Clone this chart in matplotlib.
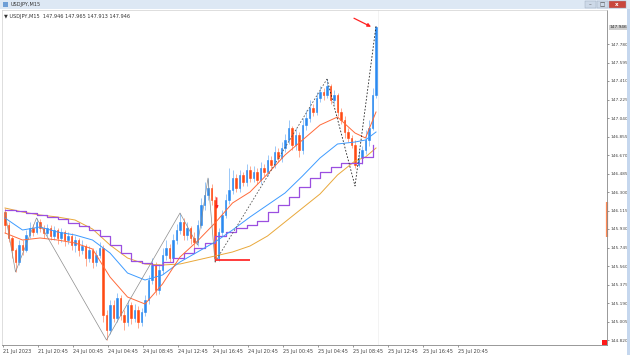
import matplotlib

matplotlib.use("Agg")
import matplotlib.pyplot as plt
from matplotlib.patches import Rectangle

W, H = 630, 355

# M15 bars; open of every bar is the close of the bar before
first_open = 146.10
closes = [
    145.97, 145.84, 145.72, 145.60, 145.77, 145.72, 145.87, 145.94, 145.90, 146.00,
    145.94, 145.89, 145.94, 145.86, 145.92, 145.84, 145.90, 145.82, 145.86, 145.77,
    145.82, 145.72, 145.76, 145.64, 145.72, 145.60, 145.67, 145.74, 145.07, 144.92,
    145.17, 145.04, 145.24, 145.07, 145.00, 145.17, 145.04, 145.12, 145.00, 145.10,
    145.22, 145.42, 145.57, 145.32, 145.52, 145.67, 145.74, 145.64, 145.82, 145.92,
    146.00, 145.87, 145.94, 145.84, 145.80, 145.97, 146.17, 146.27, 146.34, 146.22,
    145.64, 145.90, 146.07, 146.22, 146.32, 146.44, 146.34, 146.47, 146.40, 146.52,
    146.44, 146.50, 146.42, 146.54, 146.50, 146.62, 146.57, 146.70, 146.64, 146.74,
    146.82, 146.94, 146.77, 146.87, 146.72, 146.97, 147.04, 147.14, 147.10, 147.24,
    147.30, 147.27, 147.36, 147.22, 147.27, 147.10, 147.02, 146.90, 146.84, 146.77,
    146.57, 146.64, 146.72, 146.82, 146.94, 147.27, 147.95,
]
highs = [
    146.14, 146.00, 145.86, 145.74, 145.82, 145.82, 145.92, 146.00, 145.98, 146.04,
    146.03, 145.97, 145.98, 145.97, 145.96, 145.94, 145.94, 145.92, 145.90, 145.89,
    145.86, 145.84, 145.82, 145.78, 145.76, 145.74, 145.72, 145.80, 145.77, 145.12,
    145.22, 145.22, 145.29, 145.27, 145.12, 145.22, 145.20, 145.18, 145.16, 145.14,
    145.27, 145.47, 145.64, 145.60, 145.58, 145.74, 145.82, 145.78, 145.88, 145.98,
    146.09, 146.04, 146.00, 145.96, 145.90, 146.02, 146.24, 146.40, 146.44, 146.38,
    146.26, 145.94, 146.12, 146.28, 146.54, 146.52, 146.48, 146.52, 146.50, 146.58,
    146.56, 146.56, 146.54, 146.60, 146.58, 146.67, 146.66, 146.76, 146.74, 146.80,
    146.88, 147.02, 146.96, 146.94, 146.90, 147.04, 147.12, 147.22, 147.18, 147.30,
    147.36, 147.34, 147.43, 147.38, 147.32, 147.29, 147.14, 147.06, 146.94, 146.87,
    146.82, 146.72, 146.76, 146.92, 147.02, 147.34, 147.96,
]
lows = [
    145.89, 145.80, 145.64, 145.50, 145.57, 145.67, 145.70, 145.84, 145.86, 145.88,
    145.90, 145.84, 145.86, 145.82, 145.82, 145.78, 145.80, 145.76, 145.78, 145.72,
    145.70, 145.66, 145.68, 145.56, 145.60, 145.54, 145.56, 145.64, 145.00, 144.82,
    144.88, 145.00, 145.00, 145.02, 144.92, 144.96, 144.98, 145.00, 144.94, 144.96,
    145.06, 145.18, 145.38, 145.27, 145.28, 145.48, 145.62, 145.60, 145.60, 145.78,
    145.88, 145.82, 145.82, 145.78, 145.74, 145.76, 145.94, 146.12, 146.22, 146.17,
    145.60, 145.61, 145.86, 146.04, 146.18, 146.28, 146.30, 146.30, 146.36, 146.36,
    146.40, 146.40, 146.38, 146.38, 146.46, 146.46, 146.52, 146.54, 146.60, 146.60,
    146.70, 146.78, 146.72, 146.72, 146.65, 146.68, 146.92, 147.00, 147.06, 147.07,
    147.20, 147.22, 147.24, 147.18, 147.18, 147.06, 146.98, 146.84, 146.80, 146.74,
    146.54, 146.55, 146.58, 146.68, 146.76, 146.92, 147.24,
]

# moving averages, read every few bars
ma_idx = [0, 5, 10, 15, 20, 25, 30, 35, 40, 45, 50, 55, 60, 65, 70, 75, 80, 85,
          90, 95, 100, 103, 106]
ma_fast = [145.89, 145.82, 145.84, 145.82, 145.79, 145.73, 145.45, 145.25, 145.18,
           145.38, 145.65, 145.81, 145.99, 146.19, 146.30, 146.48, 146.67, 146.82,
           146.97, 147.05, 146.89, 146.84, 147.10]
ma_mid = [146.04, 145.92, 145.95, 145.90, 145.87, 145.82, 145.69, 145.49, 145.42,
          145.47, 145.60, 145.70, 145.80, 145.92, 146.05, 146.17, 146.29, 146.46,
          146.64, 146.78, 146.80, 146.82, 146.90]
ma_slow = [146.14, 146.10, 146.07, 146.05, 146.02, 145.93, 145.77, 145.64, 145.58,
           145.57, 145.58, 145.62, 145.66, 145.70, 145.76, 145.86, 146.00, 146.14,
           146.28, 146.47, 146.61, 146.65, 146.74]
# higher-timeframe MA, drawn as steps
step_idx = list(range(0, 106, 3))
ma_step = [146.12, 146.11, 146.09, 146.07, 146.05, 146.03, 145.99, 145.96, 145.92,
           145.86, 145.77, 145.69, 145.61, 145.59, 145.57, 145.60, 145.64, 145.69,
           145.74, 145.79, 145.86, 145.90, 145.94, 145.97, 146.01, 146.10, 146.17,
           146.25, 146.35, 146.44, 146.50, 146.55, 146.59, 146.59, 146.65, 146.77]

zz_idx = [0, 3, 9, 29, 50, 55, 58, 60, 92, 100, 106]
zz_price = [146.10, 145.50, 146.04, 144.82, 146.09, 145.77, 146.44, 145.60, 147.43,
            146.36, 147.96]

price_labels = ["147.780", "147.595", "147.410", "147.225", "147.040", "146.855",
                "146.670", "146.485", "146.300", "146.115", "145.930", "145.745",
                "145.560", "145.375", "145.190", "145.005", "144.820"]
time_labels = ["21 Jul 2023", "21 Jul 20:45", "24 Jul 00:45", "24 Jul 04:45",
               "24 Jul 08:45", "24 Jul 12:45", "24 Jul 16:45", "24 Jul 20:45",
               "25 Jul 00:45", "25 Jul 04:45", "25 Jul 08:45", "25 Jul 12:45",
               "25 Jul 16:45", "25 Jul 20:45"]
header = "USDJPY,M15  147.946 147.965 147.913 147.946"
bid = 147.946

UP, DOWN = "#2b8af0", "#ff4a12"
FS = 3.6
FS_PRICE = 3.1

fig = plt.figure(figsize=(W / 100, H / 100), dpi=100)
fig.patch.set_facecolor("white")

# window title bar
fig.patches.append(Rectangle((0, 1 - 9 / H), 1, 9 / H, transform=fig.transFigure,
                             facecolor="#dde8f4", edgecolor="none"))
fig.patches.append(Rectangle((3 / W, 1 - 7 / H), 5 / W, 5 / H, transform=fig.transFigure,
                             facecolor="#6f9fd6", edgecolor="none"))
fig.text(11 / W, 1 - 4.5 / H, "USDJPY,M15", fontsize=FS, va="center", color="#333333")
for x0, w, c in [(585, 11, "#cdd9e8"), (597, 11, "#cdd9e8"), (609, 17, "#c9463d")]:
    fig.patches.append(Rectangle((x0 / W, 1 - 8 / H), w / W, 7 / H, transform=fig.transFigure,
                                 facecolor=c, edgecolor="#9aa9bb", linewidth=0.3))
fig.text(590.5 / W, 1 - 4.5 / H, "–", fontsize=4, ha="center", va="center", color="#444")
fig.text(602.5 / W, 1 - 4.5 / H, "□", fontsize=4, ha="center", va="center", color="#444")
fig.text(617 / W, 1 - 4.5 / H, "x", fontsize=4, ha="center", va="center", color="white",
         fontweight="bold")
fig.patches.append(Rectangle((627 / W, 0), 3 / W, 1 - 9 / H, transform=fig.transFigure,
                             facecolor="#c5d7ee", edgecolor="none"))

ax = fig.add_axes([2 / W, 10 / H, 605 / W, 335 / H])
ax.set_xlim(-0.86, 172)
ax.set_ylim(144.77, 148.12)

opens = [first_open] + closes[:-1]
for i, (o, c, hi, lo) in enumerate(zip(opens, closes, highs, lows)):
    col = UP if c >= o else DOWN
    ax.vlines(i, lo, hi, color=col, linewidth=0.6, alpha=0.55)
    ax.add_patch(Rectangle((i - 0.25, min(o, c)), 0.5, max(abs(c - o), 0.01),
                           facecolor=col, edgecolor=col, linewidth=0.4))

ax.plot(ma_idx, ma_slow, color="#e9a83a", linewidth=0.7)
ax.plot(step_idx, ma_step, color="#9b4fe0", linewidth=0.9, drawstyle="steps-post")
ax.plot(ma_idx, ma_mid, color="#3d9bff", linewidth=0.7)
ax.plot(ma_idx, ma_fast, color="#ff6a3a", linewidth=0.7)

# zigzag: old legs solid grey, recent legs dashed
ax.plot(zz_idx[:8], zz_price[:8], color="#8c8c8c", linewidth=0.5)
ax.plot(zz_idx[7:9], zz_price[7:9], color="#555555", linewidth=0.6, linestyle=(0, (2, 2)))
ax.plot(zz_idx[8:], zz_price[8:], color="#222222", linewidth=0.6, linestyle=(0, (2, 2)))

# annotations drawn on the chart
ax.hlines(145.62, 60, 70, color="#ff1a1a", linewidth=1.2)
ax.annotate("", xy=(60.5, 146.10), xytext=(60.5, 146.27),
            arrowprops=dict(arrowstyle="-|>", color="#ff2020", lw=0.9, mutation_scale=4))
ax.annotate("", xy=(105.3, 147.94), xytext=(99, 148.05),
            arrowprops=dict(arrowstyle="-|>", color="#ff2020", lw=0.9, mutation_scale=5))
ax.axvline(106.5, color="#eeeeee", linewidth=0.5)

ax.text(2 / 605, 1 - 4 / 335, "▼ " + header, transform=ax.transAxes, fontsize=FS,
        va="top", ha="left", color="#333333")

# price scale on the right
ytick_vals = [float(s) for s in price_labels]
ax.yaxis.tick_right()
ax.set_yticks(ytick_vals)
ax.set_yticklabels(price_labels)
ax.tick_params(axis="y", length=1.5, width=0.4, pad=1.0, labelsize=FS_PRICE,
               colors="#444444")
ax.text(1.0045, bid, "147.946", transform=ax.get_yaxis_transform(), fontsize=FS_PRICE,
        va="center", ha="left", color="#333333",
        bbox=dict(boxstyle="square,pad=0.15", facecolor="#cfcfcf", edgecolor="none"))
ax.plot([1, 1], [145.85, 146.20], transform=ax.get_yaxis_transform(), color="#ff8a57",
        linewidth=1.6, clip_on=False, solid_capstyle="butt")

# time scale
ax.set_xticks([-0.6 + 10 * k for k in range(len(time_labels))])
ax.set_xticklabels(time_labels, ha="left")
ax.tick_params(axis="x", length=1.5, width=0.4, pad=1.5, labelsize=FS, colors="#444444")

for side in ["top", "left"]:
    ax.spines[side].set_color("#d0d0d0")
    ax.spines[side].set_linewidth(0.5)
for side in ["right", "bottom"]:
    ax.spines[side].set_color("#888888")
    ax.spines[side].set_linewidth(0.6)

ax.add_patch(Rectangle((0.992, 0), 0.008, 0.014, transform=ax.transAxes,
                       facecolor="#ff1a1a", edgecolor="none", clip_on=False))

fig.savefig("out.png", dpi=100)
